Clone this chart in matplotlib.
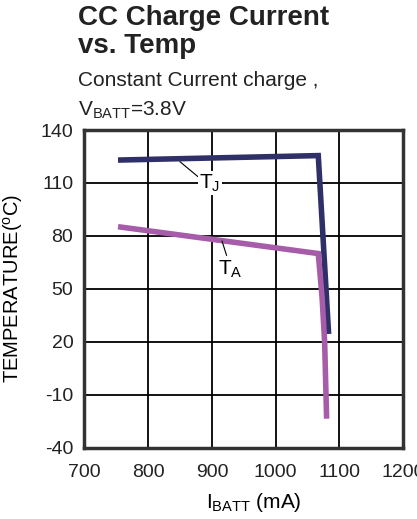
import matplotlib
matplotlib.use('Agg')
import matplotlib.pyplot as plt

plt.rcParams['font.family'] = ['Liberation Sans', 'DejaVu Sans']
plt.rcParams['mathtext.fontset'] = 'custom'
plt.rcParams['mathtext.rm'] = 'Liberation Sans'
plt.rcParams['mathtext.it'] = 'Liberation Sans'
plt.rcParams['axes.unicode_minus'] = False

# data
tj_x = [757, 1067, 1083]
tj_y = [123, 125.5, 26]
ta_x = [757, 1067, 1073, 1077, 1080]
ta_y = [85, 70, 45, 20, -22]
x_ticks = [700, 800, 900, 1000, 1100, 1200]
y_ticks = [-40, -10, 20, 50, 80, 110, 140]

fig = plt.figure(figsize=(4.17, 5.19), dpi=100)
ax = fig.add_axes([0.2026, 0.1374, 0.7638, 0.6121])

ax.plot(tj_x, tj_y, color='#2f3068', lw=4, solid_joinstyle='miter', zorder=3)
ax.plot(ta_x, ta_y, color='#a75ca9', lw=4, solid_joinstyle='miter', zorder=3)

ax.set_xlim(700, 1200)
ax.set_ylim(-40, 140)
ax.set_xticks(x_ticks)
ax.set_yticks(y_ticks)
ax.tick_params(length=0, labelsize=14, colors='#222222')
ax.tick_params(axis='x', pad=12)
ax.tick_params(axis='y', pad=8)
ax.grid(True, color='black', lw=1.3)
for s in ax.spines.values():
    s.set_linewidth(2.5)
    s.set_color('#333333')

# curve labels with leader lines
ax.plot([850, 880], [122, 113], color='black', lw=0.8, zorder=4)
ax.text(897, 110, r'T$_\mathregular{J}$', fontsize=15, ha='center', va='center',
        bbox=dict(facecolor='white', edgecolor='none', pad=1), zorder=5)
ax.plot([916, 923], [77, 69], color='black', lw=0.8, zorder=4)
ax.text(929, 61, r'T$_\mathregular{A}$', fontsize=15, ha='center', va='center', zorder=5)

ax.set_xlabel(r'I$_\mathregular{BATT}$ (mA)', fontsize=15)
ax.xaxis.set_label_coords(0.53, -0.135)
ax.set_ylabel(r'TEMPERATURE($^\mathregular{o}$C)', fontsize=14.5)
ax.yaxis.set_label_coords(-0.188, 0.5)

fig.text(0.187, 0.99, 'CC Charge Current\nvs. Temp', fontsize=20, fontweight='bold',
         va='top', ha='left', linespacing=1.1, color='#222222')
fig.text(0.187, 0.845, 'Constant Current charge ,', fontsize=15, va='center', ha='left',
         color='#222222')
fig.text(0.187, 0.788, r'V$_\mathregular{BATT}$=3.8V', fontsize=15, va='center', ha='left',
         color='#222222')

fig.savefig('out.png', dpi=100)
